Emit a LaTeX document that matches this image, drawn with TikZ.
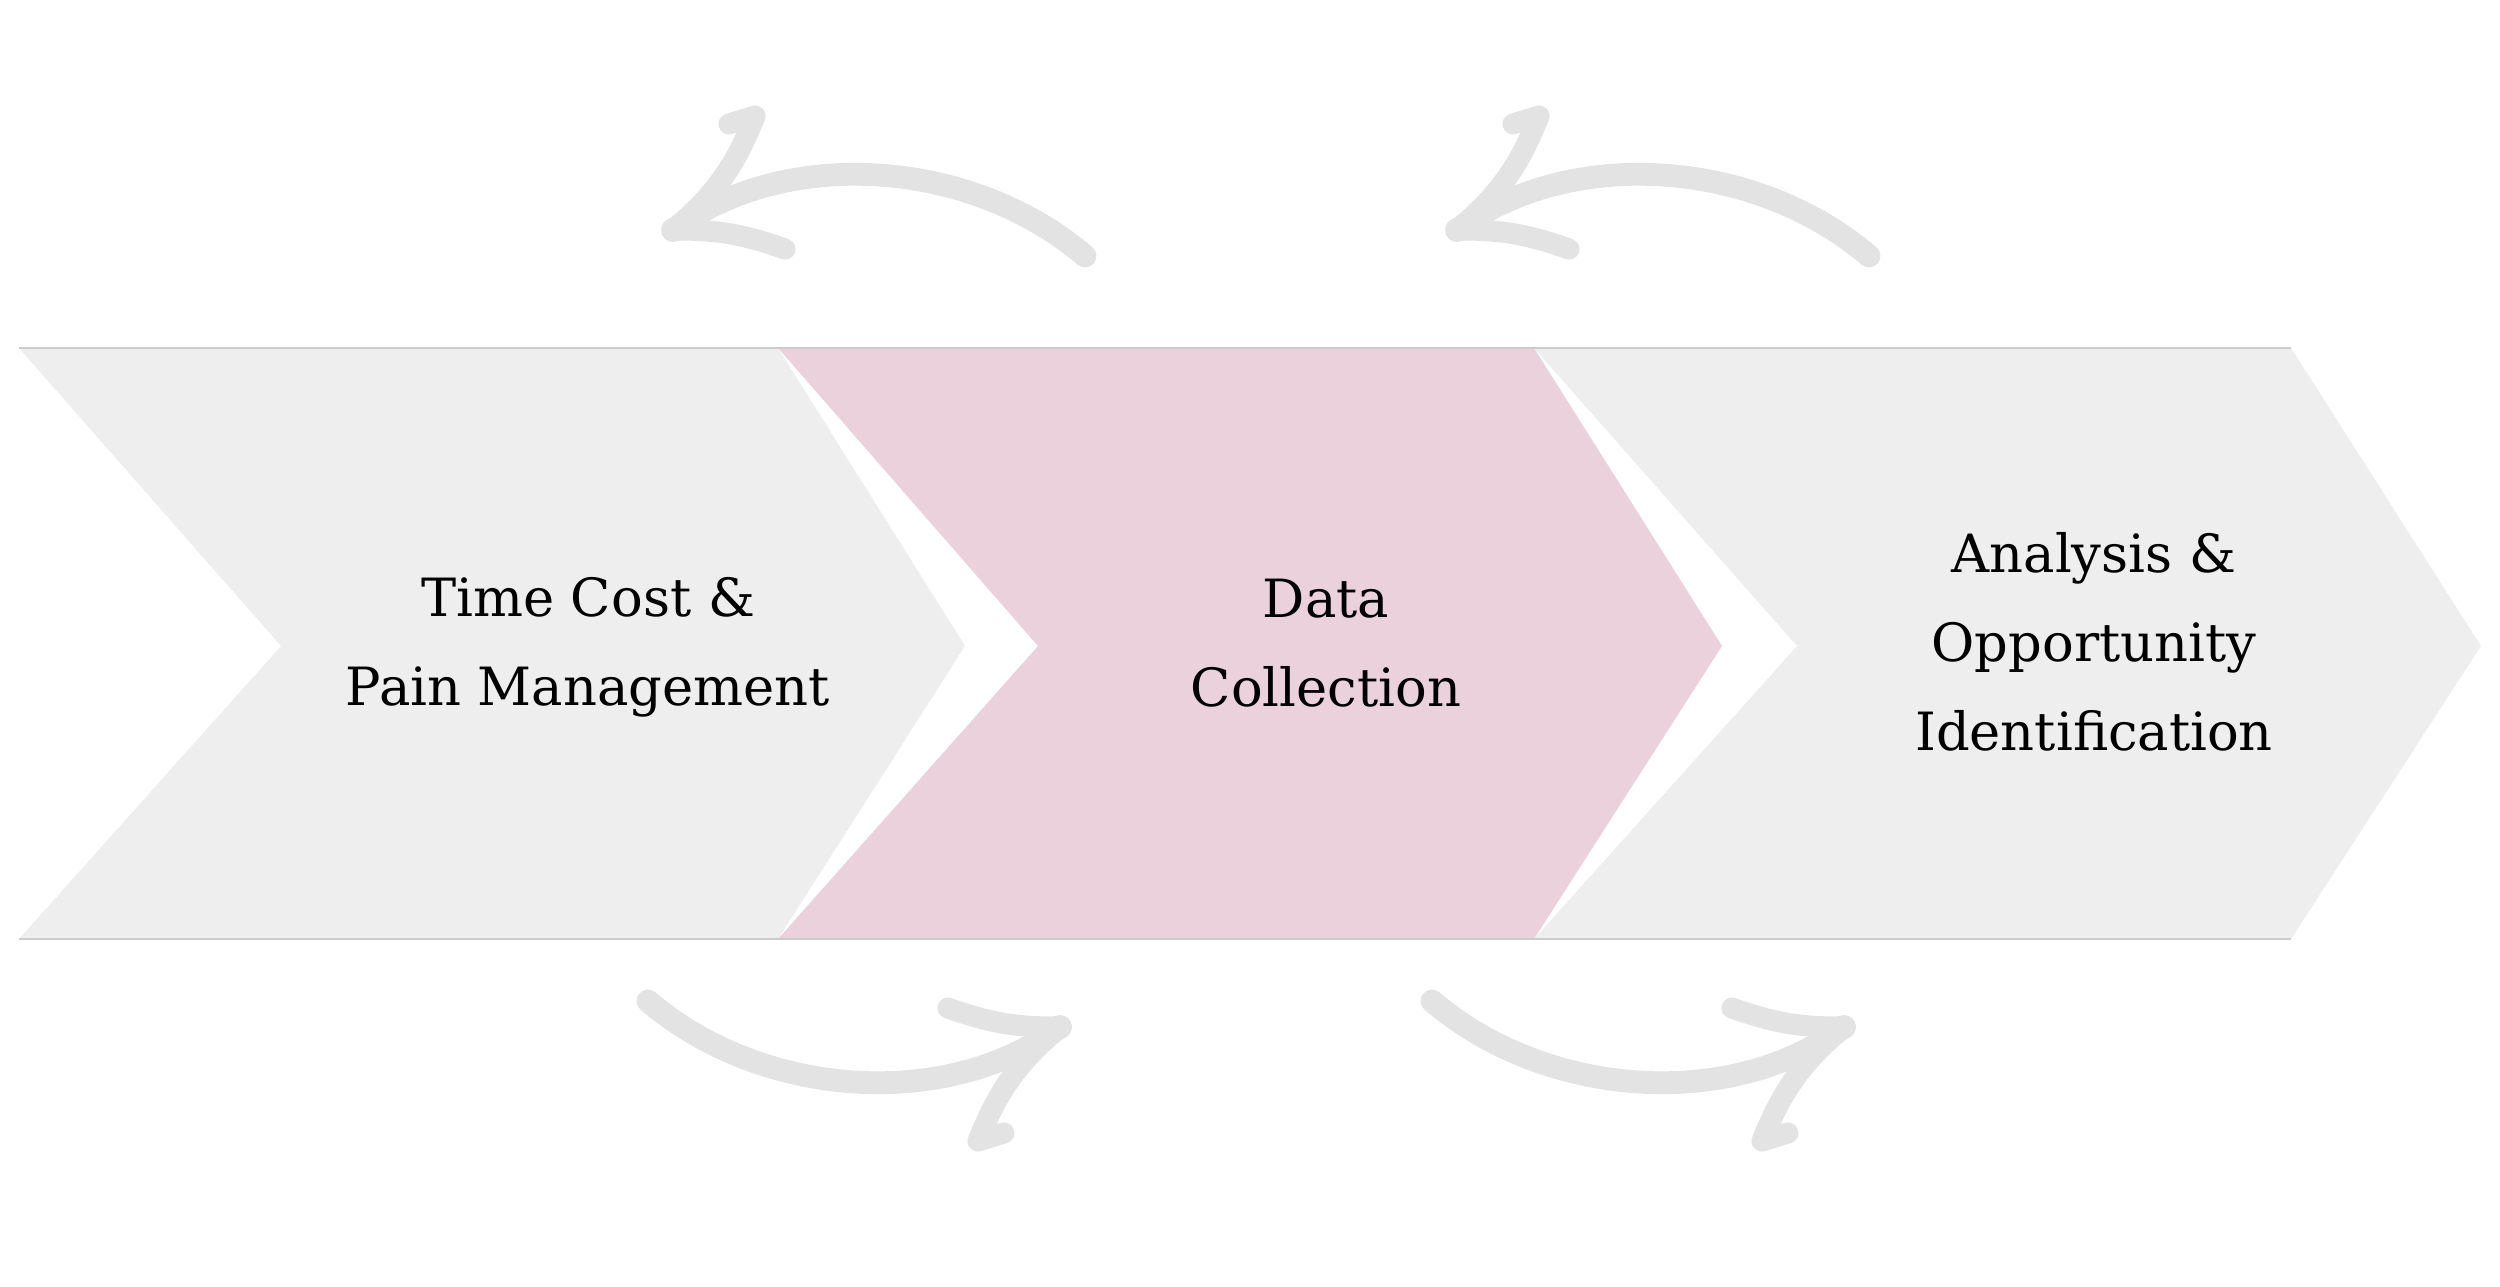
\documentclass[tikz,border=0pt]{standalone}
\usepackage{fontspec}
\setmainfont{DejaVu Serif}
\usepackage{tikz}
\definecolor{chevgray}{RGB}{238,238,238}
\definecolor{chevpink}{RGB}{234,209,220}
\definecolor{sketchgray}{RGB}{227,227,227}
\definecolor{edgegray}{RGB}{204,204,204}
\tikzset{
  sketch/.style={draw=sketchgray, line width=6.5pt, line cap=round, line join=round},
  barb/.style={sketch, line width=6pt},
  steptext/.style={align=center, inner sep=0pt, font=\fontsize{15}{25.3}\selectfont},
  loop arrow/.pic={
    \coordinate (-tip) at (0,0);
    \coordinate (-tail) at (4.12,-0.26);
    \coordinate (-c1) at (3.0,0.7);
    \coordinate (-c2) at (1.15,0.85);
    \coordinate (-hook) at (0.56,1.06);
    \coordinate (-barbA) at (0.82,1.14);
    \coordinate (-barbB) at (1.12,-0.19);
    \draw[sketch] (-tail) .. controls (-c1) and (-c2) .. (-tip);
    \draw[barb] (-hook) -- (-barbA) to[bend left=14] (-tip) to[bend left=10] (-barbB);
    \fill[sketchgray] (-tip) circle (0.12);
  }
}
\begin{document}
\begin{tikzpicture}
        \useasboundingbox (0,0) rectangle (25,12.86);
        % chevrons
        \fill[chevgray] (0.19,9.38) -- (7.78,9.38) -- (9.65,6.40) -- (7.78,3.47) -- (0.19,3.47) -- (2.81,6.40) -- cycle;
        \fill[chevpink] (7.78,9.38) -- (15.34,9.38) -- (17.22,6.40) -- (15.34,3.47) -- (7.78,3.47) -- (10.38,6.40) -- cycle;
        \fill[chevgray] (15.34,9.38) -- (22.91,9.38) -- (24.81,6.40) -- (22.91,3.47) -- (15.34,3.47) -- (17.97,6.40) -- cycle;
        \draw[edgegray, line width=0.45pt] (0.19,9.38) -- (22.91,9.38);
        \draw[edgegray, line width=0.45pt] (0.19,3.47) -- (22.91,3.47);
        % labels
        \node[steptext] (cost) at (5.88,6.39) {Time Cost \&\\Pain Management};
        \node[steptext] (data) at (13.26,6.43) {Data\\Collection};
        \node[steptext] (analysis) at (20.94,6.44) {Analysis \&\\Opportunity\\Identification};
        % hand drawn arrows
        \pic (tl) at (6.73,10.56) {loop arrow};
        \pic (tr) at (14.57,10.56) {loop arrow};
        \pic[rotate=180] (bl) at (10.60,2.59) {loop arrow};
        \pic[rotate=180] (br) at (18.44,2.59) {loop arrow};
\end{tikzpicture}
\end{document}
